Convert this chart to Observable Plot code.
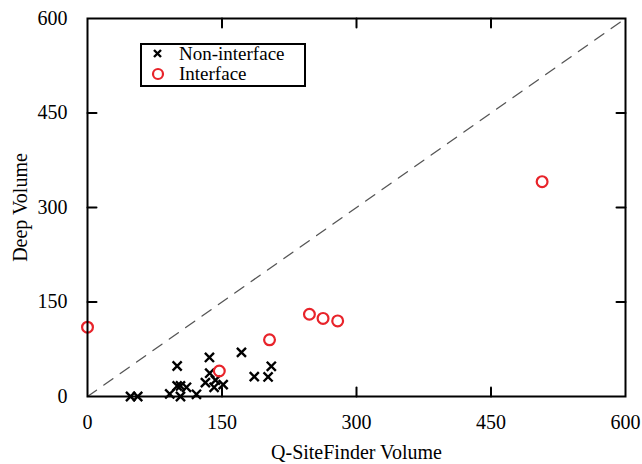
<!DOCTYPE html>
<html>
<head>
<meta charset="utf-8">
<script src="https://cdn.jsdelivr.net/npm/d3@7"></script>
<script src="https://cdn.jsdelivr.net/npm/@observablehq/plot@0.6"></script>
<style>
  html, body { margin: 0; padding: 0; background: #fff; }
  #wrap { position: relative; width: 642px; height: 464px; }
  #wrap svg text { font-family: "Liberation Serif", "Times New Roman", Times, serif; font-size: 20px; }
  #legend { position: absolute; left: 140px; top: 43px; width: 162px; height: 40px;
    border: 2px solid #000; background: #fff; font-family: "Liberation Serif", "Times New Roman", Times, serif; font-size: 19px; }
  #legend .row { position: absolute; left: 0; height: 20px; line-height: 20px; white-space: nowrap; }
  #legend svg { position: absolute; left: 9px; top: 3px; }
  #legend span { position: absolute; left: 37px; top: 0; }
</style>
</head>
<body>
<div id="wrap"></div>
<script>
const nonInterfaceX = [48, 56, 91.7, 100, 100, 103.7, 103.7, 110.4, 121.5, 131.5, 136, 136.3, 141.2, 142.7, 151.3, 171.7, 186, 201.4, 205];
const nonInterfaceY = [0, 0, 4, 48.4, 16.7, 16.7, 0, 14.6, 3.5, 22, 62, 37, 14.6, 26, 18.8, 70, 31.5, 31, 48];
const interfaceX = [0, 147, 203, 247.5, 262.7, 279, 507];
const interfaceY = [110, 40.5, 90, 130.6, 124, 120, 341];
const axisTicks = [0, 150, 300, 450, 600];
const innerTicks = [150, 300, 450];
const diagonal = [0, 600];
const xLabel = "Q-SiteFinder Volume";
const yLabel = "Deep Volume";
const legendLabels = ["Non-interface", "Interface"];

const nonData = nonInterfaceX.map((x, i) => ({x, y: nonInterfaceY[i]}));
const intData = interfaceX.map((x, i) => ({x, y: interfaceY[i]}));

const tickShape = { draw(context, l) { context.moveTo(0, 0); context.lineTo(0, -l); } };
const TL = 9;

const chart = Plot.plot({
  width: 642,
  height: 464,
  marginLeft: 87,
  marginRight: 17,
  marginTop: 18,
  marginBottom: 68,
  style: { fontFamily: "Liberation Serif, Times New Roman, serif", fontSize: "20px", color: "#000", background: "#fff" },
  x: { domain: [0, 600] },
  y: { domain: [0, 600] },
  marks: [
    Plot.line(diagonal, { x: d => d, y: d => d, stroke: "#555", strokeWidth: 1.3, strokeDasharray: "11,9" }),
    Plot.axisX(axisTicks, { anchor: "bottom", tickSize: 0, tickPadding: 18, tickFormat: d => String(d), fontSize: 20,
      label: xLabel, labelAnchor: "center", labelArrow: "none", labelOffset: 62 }),
    Plot.axisY(axisTicks, { anchor: "left", tickSize: 0, tickPadding: 20, tickFormat: d => String(d), fontSize: 20,
      label: yLabel, labelAnchor: "center", labelArrow: "none", labelOffset: 75 }),
    Plot.vector(innerTicks, { x: d => d, y: 0, length: TL, rotate: 0, anchor: "start", shape: tickShape, stroke: "#000", strokeWidth: 2 }),
    Plot.vector(innerTicks, { x: d => d, y: 600, length: TL, rotate: 180, anchor: "start", shape: tickShape, stroke: "#000", strokeWidth: 2 }),
    Plot.vector(innerTicks, { y: d => d, x: 0, length: TL, rotate: 90, anchor: "start", shape: tickShape, stroke: "#000", strokeWidth: 2 }),
    Plot.vector(innerTicks, { y: d => d, x: 600, length: TL, rotate: 270, anchor: "start", shape: tickShape, stroke: "#000", strokeWidth: 2 }),
    Plot.dot(nonData, { x: "x", y: "y", symbol: "times", r: 4.2, stroke: "#000", strokeWidth: 2.4 }),
    Plot.dot(intData, { x: "x", y: "y", symbol: "circle", r: 5.4, stroke: "#e8232a", strokeWidth: 2.2, fill: "none" }),
    Plot.frame({ stroke: "#000", strokeWidth: 2 })
  ]
});

const wrap = document.getElementById("wrap");
wrap.appendChild(chart);

const legend = document.createElement("div");
legend.id = "legend";
legend.innerHTML = `
  <div class="row" style="top:-1px;width:100%">
    <svg width="14" height="14"><path d="M3,3L10,10M10,3L3,10" stroke="#000" stroke-width="2.4"/></svg>
    <span>${legendLabels[0]}</span>
  </div>
  <div class="row" style="top:19px;width:100%">
    <svg width="14" height="14"><circle cx="7" cy="7" r="5" fill="none" stroke="#e8232a" stroke-width="2.2"/></svg>
    <span>${legendLabels[1]}</span>
  </div>`;
wrap.appendChild(legend);
</script>
</body>
</html>
